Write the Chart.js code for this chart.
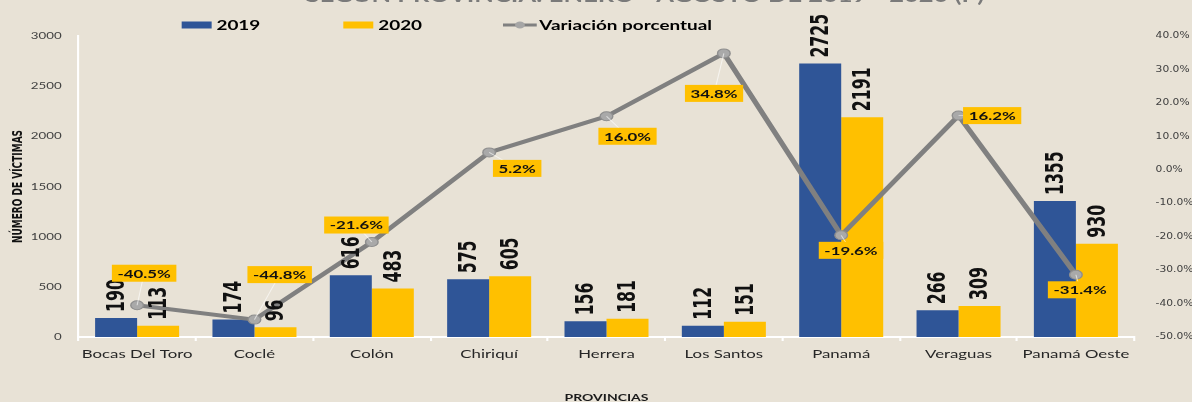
<!DOCTYPE html>
<html>
<head>
<meta charset="utf-8">
<script src="https://cdn.jsdelivr.net/npm/chart.js@4.4.1/dist/chart.umd.min.js"></script>
<style>
  html, body { margin: 0; padding: 0; background: #E8E2D6; overflow: hidden; }
  canvas { display: block; }
</style>
</head>
<body>
<canvas id="c"></canvas>
<script>
// ---------------- data ----------------
const categories = ['Bocas Del Toro', 'Coclé', 'Colón', 'Chiriquí', 'Herrera', 'Los Santos', 'Panamá', 'Veraguas', 'Panamá Oeste'];
const victims2019 = [190, 174, 616, 575, 156, 112, 2725, 266, 1355];
const victims2020 = [113, 96, 483, 605, 181, 151, 2191, 309, 930];
const variationPct = [-40.5, -44.8, -21.6, 5.2, 16.0, 34.8, -19.6, 16.2, -31.4];
const seriesNames = ['2019', '2020', 'Variación porcentual'];
const chartTitle = 'SEGÚN PROVINCIA: ENERO - AGOSTO DE 2019 - 2020 (P)';
const yTitle = 'NÚMERO DE VÍCTIMAS';
const xTitle = 'PROVINCIAS';

// ---------------- layout / style ----------------
// label box placement for the percentage labels (offset from the point, in chart units)
const pctLabelOffsets = [[5, -32], [18, -45], [-11, -17], [20, 16], [15, 20], [-7, 40], [7, 15], [24, 0], [3, 15]];
const COL_2019 = '#2F5597';
const COL_2020 = '#FFC000';
const COL_LINE = '#808080';
const BG = '#E8E2D6';
const NARROW = '"Liberation Sans Narrow", "Arial Narrow", "DejaVu Sans Condensed", sans-serif';
const SANS = 'Lato, "Open Sans", sans-serif';

const OUT_W = 1192, OUT_H = 402, STRETCH = 1.4;
const W = Math.round(OUT_W / STRETCH);

const canvas = document.getElementById('c');
canvas.width = W;
canvas.height = OUT_H;
canvas.style.width = OUT_W + 'px';
canvas.style.height = OUT_H + 'px';

const stretchPlugin = {
  id: 'stretchBg',
  beforeDraw(chart) {
    const ctx = chart.ctx;
    const sx = chart.canvas.width / chart.width;
    ctx.setTransform(sx, 0, 0, 1, 0, 0);
    ctx.save();
    ctx.fillStyle = BG;
    ctx.fillRect(0, 0, chart.width, chart.height);
    ctx.restore();
  }
};

const labelsPlugin = {
  id: 'labels',
  afterDatasetsDraw(chart) {
    const ctx = chart.ctx;
    // bar value labels (vertical)
    [0, 1].forEach(di => {
      const meta = chart.getDatasetMeta(di);
      const vals = chart.data.datasets[di].data;
      meta.data.forEach((bar, i) => {
        ctx.save();
        ctx.translate(bar.x, bar.y - 6);
        ctx.rotate(-Math.PI / 2);
        ctx.font = 'bold 17.5px ' + NARROW;
        ctx.fillStyle = '#111111';
        ctx.textAlign = 'left';
        ctx.textBaseline = 'middle';
        ctx.fillText(String(vals[i]), 0, 1);
        ctx.restore();
      });
    });
    // percentage labels in boxes
    const lm = chart.getDatasetMeta(2);
    const vals = chart.data.datasets[2].data;
    lm.data.forEach((pt, i) => {
      const txt = vals[i].toFixed(1) + '%';
      const [dx, dy] = pctLabelOffsets[i];
      const cx = pt.x + dx, cy = pt.y + dy;
      ctx.save();
      ctx.font = 'bold 12px ' + SANS;
      const tw = ctx.measureText(txt).width;
      const bw = tw + 8, bh = 17;
      // leader line
      ctx.strokeStyle = 'rgba(255,255,255,0.6)';
      ctx.lineWidth = 0.8;
      ctx.beginPath();
      ctx.moveTo(pt.x, pt.y);
      ctx.lineTo(cx, cy);
      ctx.stroke();
      ctx.fillStyle = COL_2020;
      ctx.fillRect(cx - bw / 2, cy - bh / 2, bw, bh);
      ctx.fillStyle = '#111111';
      ctx.textAlign = 'center';
      ctx.textBaseline = 'middle';
      ctx.fillText(txt, cx, cy + 0.5);
      ctx.restore();
    });
  },
  afterDraw(chart) {
    const ctx = chart.ctx;
    ctx.save();
    // legend
    const ly = 25;
    ctx.font = 'bold 13.5px ' + SANS;
    ctx.textBaseline = 'middle';
    ctx.textAlign = 'left';
    ctx.fillStyle = COL_2019;
    ctx.fillRect(129.7, ly - 3.5, 21.4, 7);
    ctx.fillStyle = '#000';
    ctx.fillText(seriesNames[0], 154.5, ly + 0.5);
    ctx.fillStyle = COL_2020;
    ctx.fillRect(245.1, ly - 3.5, 21.4, 7);
    ctx.fillStyle = '#000';
    ctx.fillText(seriesNames[1], 270, ly + 0.5);
    ctx.strokeStyle = COL_LINE;
    ctx.lineWidth = 3;
    ctx.beginPath();
    ctx.moveTo(359.1, ly); ctx.lineTo(383.2, ly);
    ctx.stroke();
    ctx.fillStyle = '#A6A6A6';
    ctx.beginPath();
    ctx.arc(371.2, ly, 3.5, 0, Math.PI * 2);
    ctx.fill();
    ctx.fillStyle = '#000';
    ctx.fillText(seriesNames[2], 385, ly + 0.5);
    // cropped chart title at the very top
    let fs = 16;
    ctx.font = 'bold ' + fs + 'px ' + SANS;
    const tw = ctx.measureText(chartTitle).width;
    fs = fs * 485 / tw;
    ctx.font = 'bold ' + fs.toFixed(2) + 'px ' + SANS;
    ctx.fillStyle = '#7A7A7A';
    ctx.textAlign = 'center';
    ctx.textBaseline = 'alphabetic';
    ctx.fillText(chartTitle, 460.5, 2);
    ctx.restore();
  }
};

function build() {
  const chart = new Chart(canvas, {
    type: 'bar',
    data: {
      labels: categories,
      datasets: [
        { label: seriesNames[0], data: victims2019, backgroundColor: COL_2019, yAxisID: 'y', order: 2,
          categoryPercentage: 0.716, barPercentage: 1.0 },
        { label: seriesNames[1], data: victims2020, backgroundColor: COL_2020, yAxisID: 'y', order: 2,
          categoryPercentage: 0.716, barPercentage: 1.0 },
        { type: 'line', label: seriesNames[2], data: variationPct, yAxisID: 'y1', order: 0,
          borderColor: COL_LINE, borderWidth: 4, tension: 0,
          pointRadius: 4.5, pointBackgroundColor: '#A9A9A9', pointBorderColor: '#8E8E8E', pointBorderWidth: 1 }
      ]
    },
    options: {
      responsive: false,
      animation: false,
      devicePixelRatio: 1,
      layout: { padding: { top: 36, left: 0, right: 0, bottom: 0 } },
      plugins: { legend: { display: false }, title: { display: false }, tooltip: { enabled: false } },
      scales: {
        x: {
          offset: true,
          grid: { display: true, drawOnChartArea: false, drawTicks: true, tickLength: 4, color: '#FFFFFF', lineWidth: 1.5, offset: true },
          border: { display: true, color: '#FFFFFF', width: 2 },
          ticks: { font: { family: SANS, size: 12 }, color: '#262626', padding: 6, maxRotation: 0, autoSkip: false },
          title: { display: true, text: xTitle, color: '#1A1A1A', padding: 0,
                   font: { family: SANS, size: 10, weight: 'bold', lineHeight: 0.9 } },
          afterFit(s) { s.height = 65; }
        },
        y: {
          position: 'left', min: 0, max: 3000,
          ticks: { stepSize: 500, font: { family: SANS, size: 9.5 }, color: '#404040', padding: 12,
                   callback: v => String(v) },
          grid: { display: false, drawTicks: false },
          border: { display: true, color: '#FFFFFF', width: 1.5 },
          title: { display: true, text: yTitle, color: '#111111', padding: { top: 7, bottom: 0 },
                   font: { family: NARROW, size: 10, weight: 'bold' } },
          afterFit(s) { s.width = 56; }
        },
        y1: {
          position: 'right', min: -50, max: 40,
          ticks: { stepSize: 10, font: { family: NARROW, size: 8.5 }, color: '#404040', padding: 15,
                   callback: v => Number(v).toFixed(1) + '%' },
          grid: { display: false, drawTicks: false },
          border: { display: false },
          afterFit(s) { s.width = 41; }
        }
      }
    },
    plugins: [stretchPlugin, labelsPlugin]
  });
  canvas.width = OUT_W;
  canvas.height = OUT_H;
  chart.draw();
}

const fontLoads = [
  '12px Lato', 'bold 12px Lato', 'bold 12px "Liberation Sans Narrow"', '12px "Liberation Sans Narrow"'
].map(f => document.fonts.load(f).catch(() => null));
Promise.race([Promise.all(fontLoads), new Promise(r => setTimeout(r, 1500))]).then(build);
</script>
</body>
</html>
